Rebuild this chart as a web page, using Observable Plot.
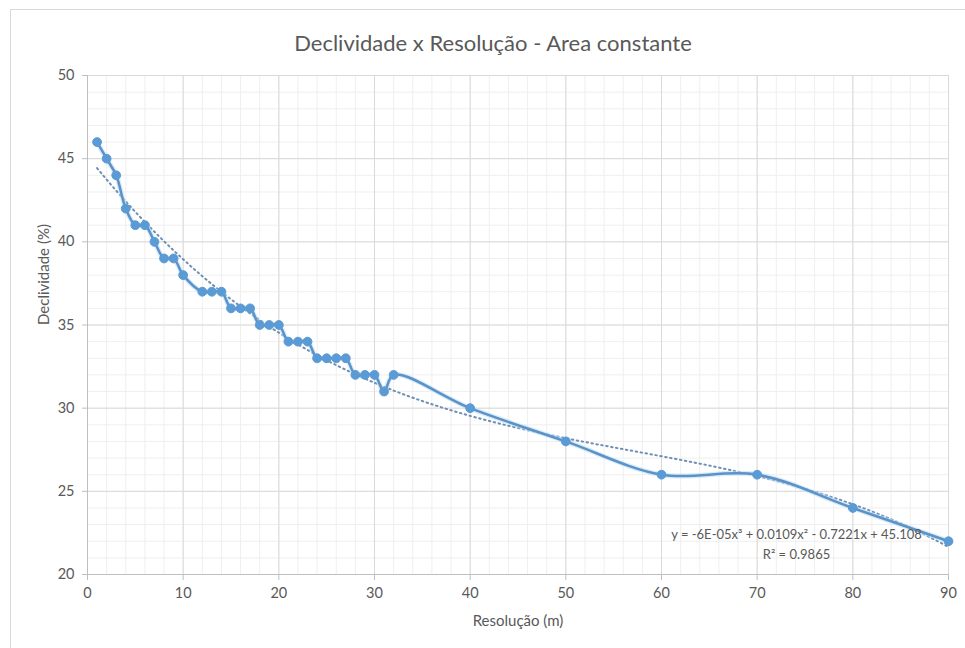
<!DOCTYPE html>
<html>
<head>
<meta charset="utf-8">
<script src="https://cdn.jsdelivr.net/npm/d3@7"></script>
<script src="https://cdn.jsdelivr.net/npm/@observablehq/plot@0.6"></script>
<style>
  html, body { margin: 0; padding: 0; background: #fff; }
  #wrap { position: relative; width: 965px; height: 648px; overflow: hidden; background: #fff; }
  #border { position: absolute; left: 10px; top: 9px; width: 1000px; height: 700px; border: 1px solid #d9d9d9; box-sizing: border-box; }
  #chart { position: absolute; left: 0; top: 0; }
</style>
</head>
<body>
<div id="wrap"><div id="border"></div><div id="chart"></div></div>
<script>
const title = "Declividade x Resolução - Area constante";
const xLabel = "Resolução (m)";
const yLabel = "Declividade (%)";
const resolucao = [1,2,3,4,5,6,7,8,9,10,12,13,14,15,16,17,18,19,20,21,22,23,24,25,26,27,28,29,30,31,32,40,50,60,70,80,90];
const declividade = [46,45,44,42,41,41,40,39,39,38,37,37,37,36,36,36,35,35,35,34,34,34,33,33,33,33,32,32,32,31,32,30,28,26,26,24,22];
const xTicks = [0,10,20,30,40,50,60,70,80,90];
const yTicks = [20,25,30,35,40,45,50];
const equationText = "y = -6E-05x³ + 0.0109x² - 0.7221x + 45.108";
const r2Text = "R² = 0.9865";

const data = resolucao.map((x, i) => ({x, y: declividade[i]}));

// least-squares cubic fit of the data (trendline)
function polyfit(xs, ys, deg) {
  const n = deg + 1;
  const A = Array.from({length: n}, () => new Array(n + 1).fill(0));
  for (let k = 0; k < xs.length; k++) {
    for (let i = 0; i < n; i++) {
      for (let j = 0; j < n; j++) A[i][j] += Math.pow(xs[k], i + j);
      A[i][n] += ys[k] * Math.pow(xs[k], i);
    }
  }
  for (let c = 0; c < n; c++) {
    let p = c;
    for (let r = c + 1; r < n; r++) if (Math.abs(A[r][c]) > Math.abs(A[p][c])) p = r;
    [A[c], A[p]] = [A[p], A[c]];
    for (let r = 0; r < n; r++) {
      if (r === c) continue;
      const f = A[r][c] / A[c][c];
      for (let j = c; j <= n; j++) A[r][j] -= f * A[c][j];
    }
  }
  return A.map((row, i) => row[n] / row[i]);
}
const coef = polyfit(resolucao, declividade, 3);
const xmin = d3.min(resolucao), xmax = d3.max(resolucao);
const trend = d3.range(xmin, xmax + 0.001, 0.5).map(x => ({x, y: coef.reduce((s, c, i) => s + c * Math.pow(x, i), 0)}));

const font = "Lato, 'Open Sans', sans-serif";
const plot = Plot.plot({
  width: 965,
  height: 648,
  marginLeft: 87,
  marginRight: 17,
  marginTop: 75,
  marginBottom: 74,
  style: {fontFamily: font, fontSize: "14px", background: "transparent", color: "#595959"},
  x: {domain: [0, 90]},
  y: {domain: [20, 50]},
  marks: [
    Plot.gridX(d3.range(0, 91, 2), {stroke: "#efefef", strokeOpacity: 1}),
    Plot.gridY(d3.range(20, 51, 1), {stroke: "#efefef", strokeOpacity: 1}),
    Plot.gridX(xTicks, {stroke: "#d9d9d9", strokeOpacity: 1}),
    Plot.gridY(yTicks, {stroke: "#d9d9d9", strokeOpacity: 1}),
    Plot.ruleX([0], {stroke: "#bfbfbf"}),
    Plot.ruleY([20], {stroke: "#bfbfbf"}),
    Plot.axisX(xTicks, {tickSize: 6, tickPadding: 7, stroke: "#bfbfbf", fill: "#595959", label: null, fontSize: 14.5}),
    Plot.axisY(yTicks, {tickSize: 5, tickPadding: 8, stroke: "#bfbfbf", fill: "#595959", label: null, fontSize: 14.5}),
    Plot.line(trend, {x: "x", y: "y", stroke: "#6f8fb5", strokeWidth: 2, strokeDasharray: "1.5,3.5", strokeLinecap: "round"}),
    Plot.line(data, {x: "x", y: "y", curve: "catmull-rom", stroke: "#bfe0f7", strokeWidth: 5, strokeOpacity: 0.6}),
    Plot.line(data, {x: "x", y: "y", curve: "catmull-rom", stroke: "#5b93c9", strokeWidth: 2.5}),
    Plot.dot(data, {x: "x", y: "y", r: 4.4, fill: "#5b9bd5", stroke: "#5b9bd5", strokeWidth: 1}),
    Plot.text([equationText], {frameAnchor: "bottom-right", dx: -152, dy: -36, textAnchor: "middle", fill: "#595959", fontSize: 13, fontFamily: font}),
    Plot.text([r2Text], {frameAnchor: "bottom-right", dx: -152, dy: -16, textAnchor: "middle", fill: "#595959", fontSize: 13, fontFamily: font}),
    Plot.text([title], {frameAnchor: "top", dx: -25, dy: -40, fill: "#595959", fontSize: 22, fontFamily: font}),
    Plot.text([xLabel], {frameAnchor: "bottom", dy: 51, fill: "#595959", fontSize: 15, fontFamily: font}),
    Plot.text([yLabel], {frameAnchor: "left", dx: -43, rotate: -90, fill: "#595959", fontSize: 15, fontFamily: font})
  ]
});
document.getElementById("chart").appendChild(plot);
</script>
</body>
</html>
